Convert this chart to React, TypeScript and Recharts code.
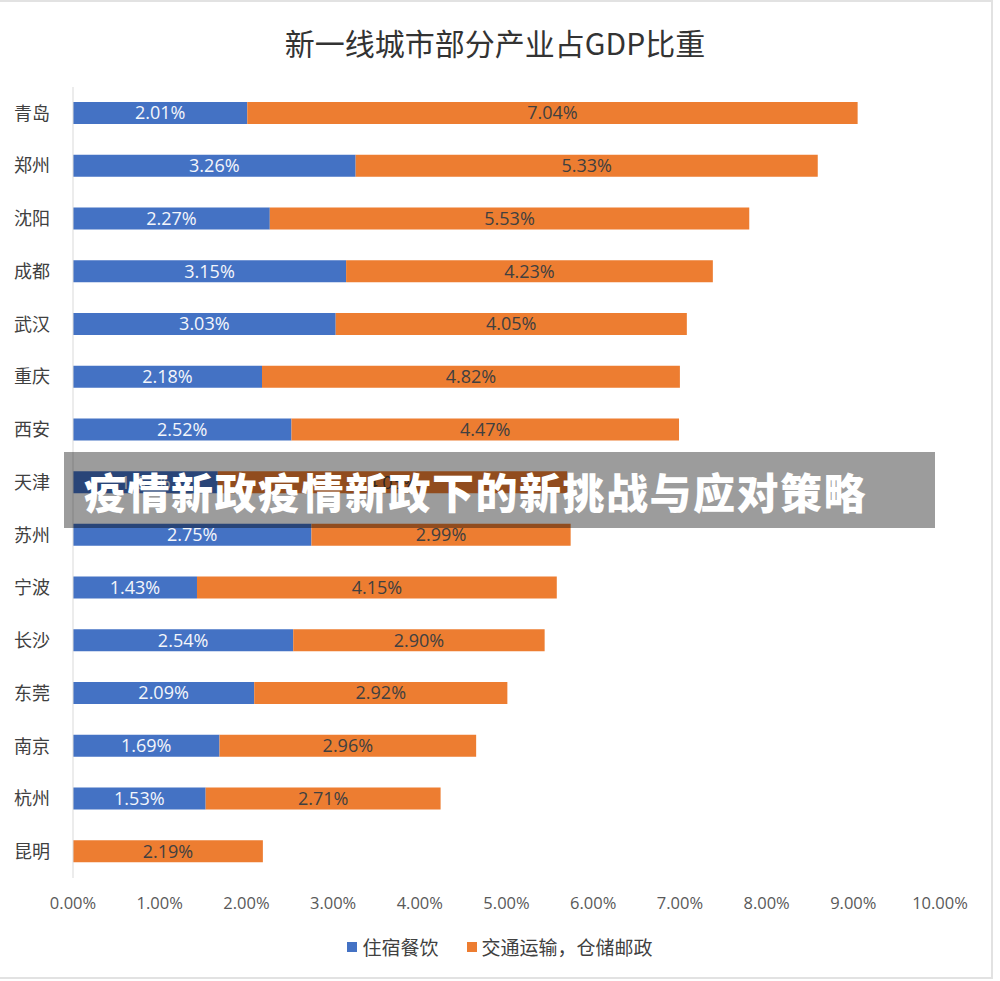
import { BarChart, Bar, XAxis, YAxis, LabelList } from 'recharts';

const cities = ['青岛', '郑州', '沈阳', '成都', '武汉', '重庆', '西安', '天津', '苏州', '宁波', '长沙', '东莞', '南京', '杭州', '昆明'];
const lodging = [2.01, 3.26, 2.27, 3.15, 3.03, 2.18, 2.52, 1.67, 2.75, 1.43, 2.54, 2.09, 1.69, 1.53, null];
const transport = [7.04, 5.33, 5.53, 4.23, 4.05, 4.82, 4.47, 4.03, 2.99, 4.15, 2.9, 2.92, 2.96, 2.71, 2.19];
const xTicks = [0, 1, 2, 3, 4, 5, 6, 7, 8, 9, 10];

const BLUE = '#4472C4';
const ORANGE = '#ED7D31';
const FONT = '"Open Sans", "Noto Sans CJK SC", sans-serif';
const CJK = '"Noto Sans CJK SC", sans-serif';

const data = cities.map((city, i) => ({ city, lodging: lodging[i], transport: transport[i] }));

const fmt = (v: any) => (v == null ? '' : `${Number(v).toFixed(2)}%`);

export default function App() {
  return (
    <div style={{ position: 'fixed', left: 0, top: 0, width: 1000, height: 981, background: '#fff', fontFamily: FONT }}>
      {/* faint frame of the screenshot */}
      <div style={{ position: 'absolute', left: 0, top: 0, width: 991, height: 975, borderTop: '2px solid #e2e2e2', borderRight: '2px solid #e2e2e2', borderBottom: '2px solid #e2e2e2' }} />

      <div style={{ position: 'absolute', left: 0, top: 20, width: 990, textAlign: 'center', fontSize: 30, color: '#333', fontFamily: CJK }}>
        新一线城市部分产业占GDP比重
      </div>

      <div style={{ position: 'absolute', left: 0, top: 0 }}>
        <BarChart width={1000} height={981} data={data} layout="vertical" margin={{ top: 87, right: 60, left: 0, bottom: 73 }}>
          <XAxis type="number" domain={[0, 10]} ticks={xTicks} tickFormatter={fmt} axisLine={false} tickLine={false} height={30} tickMargin={13} tick={{ fill: '#595959', fontSize: 16.5, fontFamily: FONT }} />
          <YAxis type="category" dataKey="city" width={73} axisLine={{ stroke: '#d9d9d9' }} tickLine={false} tickMargin={17} tick={{ fill: '#404040', fontSize: 18, fontFamily: CJK }} />
          <Bar dataKey="lodging" stackId="a" fill={BLUE} barSize={22} isAnimationActive={false}>
            <LabelList dataKey="lodging" position="center" formatter={fmt} fill="#f4f6fb" fontSize={18} fontFamily={FONT} />
          </Bar>
          <Bar dataKey="transport" stackId="a" fill={ORANGE} barSize={22} isAnimationActive={false}>
            <LabelList dataKey="transport" position="center" formatter={fmt} fill="#404040" fontSize={18} fontFamily={FONT} />
          </Bar>
        </BarChart>
      </div>

      {/* legend */}
      <div style={{ position: 'absolute', left: 0, top: 933, width: 1000, display: 'flex', justifyContent: 'center', fontSize: 19, color: '#404040', fontFamily: CJK }}>
        <div style={{ display: 'flex', alignItems: 'center', marginRight: 28 }}>
          <span style={{ width: 10, height: 10, background: BLUE, marginRight: 5, display: 'inline-block' }} />
          住宿餐饮
        </div>
        <div style={{ display: 'flex', alignItems: 'center' }}>
          <span style={{ width: 10, height: 10, background: ORANGE, marginRight: 5, display: 'inline-block' }} />
          交通运输，仓储邮政
        </div>
      </div>

      {/* overlay banner */}
      <div style={{ position: 'absolute', left: 64, top: 452, width: 871, height: 76, background: 'rgba(0,0,0,0.39)', display: 'flex', alignItems: 'center', boxSizing: 'border-box', paddingLeft: 20 }}>
        <span style={{ color: '#fff', fontSize: 42, fontWeight: 900, letterSpacing: 1.5, fontFamily: CJK }}>
          疫情新政疫情新政下的新挑战与应对策略
        </span>
      </div>
    </div>
  );
}
